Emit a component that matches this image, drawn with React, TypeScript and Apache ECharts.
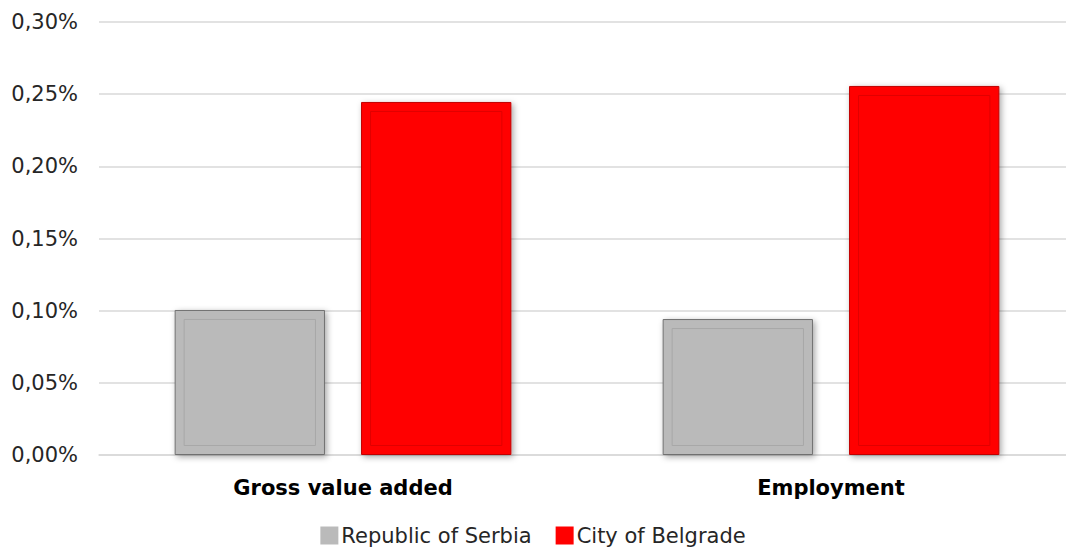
import React, { useEffect, useRef } from "react";
import * as echarts from "echarts";

const categories = ["Gross value added", "Employment"];
const seriesNames = ["Republic of Serbia", "City of Belgrade"];
const serbiaValues = [0.1005, 0.0942];
const belgradeValues = [0.2446, 0.2557];
const yTicks = { min: 0, max: 0.3, interval: 0.05 };

const FONT = "DejaVu Sans";

export default function App() {
  const ref = useRef<HTMLDivElement>(null);
  useEffect(() => {
    if (!ref.current) return;
    const chart = echarts.init(ref.current, null, { renderer: "svg" });
    const catGap = 0.31;
    const barGapRatio = 0.24;
    const makeInner = (side: number, values: number[], color: string) => ({
      type: "custom",
      silent: true,
      z: 5,
      data: values.map((v, i) => [i, v]),
      encode: { x: 0, y: 1 },
      renderItem: (params: any, api: any) => {
        const band = api.size([1, 0])[0];
        const barW = (band * (1 - catGap)) / (2 + barGapRatio);
        const gap = barW * barGapRatio;
        const center = api.coord([api.value(0), 0]);
        const top = api.coord([api.value(0), api.value(1)]);
        const cx = center[0] + side * (barW + gap) / 2;
        const inset = 9.5;
        return {
          type: "rect",
          shape: {
            x: cx - barW / 2 + inset,
            y: top[1] + inset,
            width: barW - 2 * inset,
            height: center[1] - top[1] - 2 * inset,
          },
          style: { fill: "none", stroke: color, lineWidth: 1 },
        };
      },
    });
    chart.setOption({
      animation: false,
      grid: {
        left: 99,
        right: -9,
        top: 22,
        bottom: 96,
        outerBoundsMode: "none",
        containLabel: false,
      },
      legend: {
        data: seriesNames,
        bottom: 0,
        left: "center",
        icon: "rect",
        itemWidth: 18,
        itemHeight: 18,
        itemGap: 24,
        itemStyle: { borderWidth: 0, shadowBlur: 0, shadowOffsetX: 0, shadowOffsetY: 0 },
        textStyle: { fontFamily: FONT, fontSize: 21, color: "#262626", padding: [0, 0, 0, -2] },
      },
      xAxis: {
        type: "category",
        data: categories,
        axisTick: { show: false },
        axisLine: { lineStyle: { color: "#d9d9d9", width: 1.5 } },
        axisLabel: {
          margin: 22,
          fontFamily: FONT,
          fontSize: 21,
          fontWeight: "bold",
          color: "#000",
        },
      },
      yAxis: {
        type: "value",
        min: yTicks.min,
        max: yTicks.max,
        interval: yTicks.interval,
        axisLine: { show: false },
        axisTick: { show: false },
        splitLine: { lineStyle: { color: "#d9d9d9", width: 1.5 } },
        axisLabel: {
          margin: 21,
          fontFamily: FONT,
          fontSize: 21,
          color: "#262626",
          formatter: (v: number) => v.toFixed(2).replace(".", ",") + "%",
        },
      },
      series: [
        {
          name: seriesNames[0],
          type: "bar",
          data: serbiaValues,
          barGap: "24%",
          barCategoryGap: "31%",
          itemStyle: {
            color: "#bababa",
            borderColor: "#707070",
            borderWidth: 1,
            shadowBlur: 6,
            shadowColor: "rgba(0,0,0,0.35)",
            shadowOffsetX: 2,
            shadowOffsetY: 2,
          },
        },
        {
          name: seriesNames[1],
          type: "bar",
          data: belgradeValues,
          barGap: "24%",
          barCategoryGap: "31%",
          itemStyle: {
            color: "#ff0000",
            borderColor: "#c00000",
            borderWidth: 1,
            shadowBlur: 6,
            shadowColor: "rgba(0,0,0,0.35)",
            shadowOffsetX: 2,
            shadowOffsetY: 2,
          },
        },
        makeInner(-1, serbiaValues, "#a8a8a8"),
        makeInner(1, belgradeValues, "#e00000"),
      ],
    });
    return () => chart.dispose();
  }, []);
  return (
    <div
      ref={ref}
      style={{ position: "fixed", left: 0, top: 0, width: 1066, height: 551, background: "#fff" }}
    />
  );
}
